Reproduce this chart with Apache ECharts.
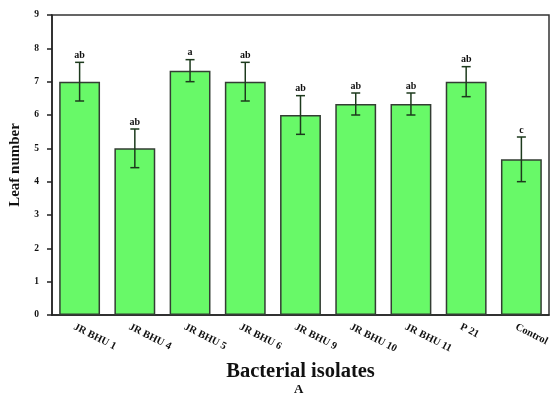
<!DOCTYPE html>
<html>
<head>
<meta charset="utf-8">
<script src="https://cdn.jsdelivr.net/npm/echarts@6/dist/echarts.min.js"></script>
<style>html,body{margin:0;padding:0;background:#fff}#c{width:554px;height:396px}</style>
</head>
<body>
<div id="c"></div>
<script>
const categories = ['JR BHU 1','JR BHU 4','JR BHU 5','JR BHU 6','JR BHU 9','JR BHU 10','JR BHU 11','P 21','Control'];
const means = [7, 5, 7.33, 7, 6, 6.33, 6.33, 7, 4.67];
const errors = [0.58, 0.58, 0.33, 0.58, 0.58, 0.33, 0.33, 0.45, 0.67];
const letters = ['ab','ab','a','ab','ab','ab','ab','ab','c'];
const yTicks = [0,1,2,3,4,5,6,7,8,9];

const font = '"Liberation Serif","DejaVu Serif",serif';
const chart = echarts.init(document.getElementById('c'));
const errData = means.map((m,i)=>[i, m - errors[i], m + errors[i]]);
chart.setOption({
  animation: false,
  grid: {left: 51, right: 5, top: 15, bottom: 81, show: true, borderColor: '#333', borderWidth: 1.5},
  xAxis: {
    type: 'category', data: categories,
    axisLine: {lineStyle: {color: '#222', width: 1.5}},
    axisTick: {alignWithLabel: true, length: 5, lineStyle: {color: '#222', width: 1.5}},
    axisLabel: {rotate: -27, fontFamily: font, fontWeight: 'bold', fontSize: 10.5, color: '#111', margin: 14,
      padding: [0, 0, 0, -6]},
    name: 'Bacterial isolates', nameLocation: 'middle', nameGap: 46,
    nameTextStyle: {fontFamily: font, fontWeight: 'bold', fontSize: 20.5, color: '#111'}
  },
  yAxis: {
    type: 'value', min: 0, max: 9, interval: 1,
    splitLine: {show: false},
    axisLine: {show: true, lineStyle: {color: '#222', width: 1.5}},
    axisTick: {show: true, length: 5, lineStyle: {color: '#222', width: 1.5}},
    axisLabel: {fontFamily: font, fontWeight: 'bold', fontSize: 9.5, color: '#111', margin: 13,
      formatter: v => yTicks.includes(v) ? String(v) : ''},
    name: 'Leaf number', nameLocation: 'middle', nameGap: 29,
    nameTextStyle: {fontFamily: font, fontWeight: 'bold', fontSize: 15, color: '#111'}
  },
  graphic: [{type: 'text', left: 294, top: 383, style: {text: 'A', font: 'bold 13px ' + font, fill: '#111'}}],
  series: [
    {type: 'bar', data: means, barWidth: '74%',
     itemStyle: {color: '#68f968', borderColor: '#333d33', borderWidth: 1.5}},
    {type: 'custom', data: errData, z: 10,
     renderItem: (params, api) => {
       const x = api.coord([api.value(0), 0])[0];
       const lo = api.coord([api.value(0), api.value(1)])[1];
       const hi = api.coord([api.value(0), api.value(2)])[1];
       const w = 4.5;
       const st = {stroke: '#1d3a1d', lineWidth: 1.5};
       return {type: 'group', children: [
         {type: 'line', shape: {x1: x, y1: lo, x2: x, y2: hi}, style: st},
         {type: 'line', shape: {x1: x-w, y1: lo, x2: x+w, y2: lo}, style: st},
         {type: 'line', shape: {x1: x-w, y1: hi, x2: x+w, y2: hi}, style: st},
         {type: 'text', x: x, y: hi - 2, style: {text: letters[params.dataIndex], textAlign: 'center', textVerticalAlign: 'bottom', font: 'bold 10px ' + font, fill: '#111'}}
       ]};
     }}
  ]
});
</script>
</body>
</html>
